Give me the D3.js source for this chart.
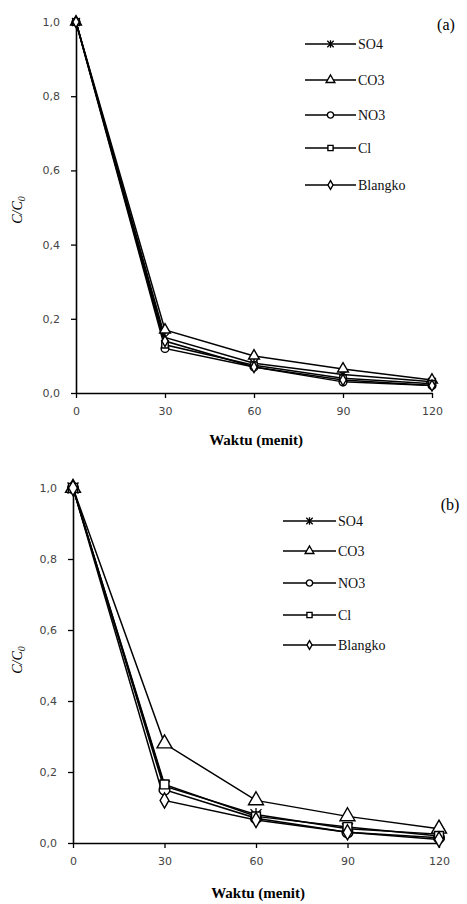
<!DOCTYPE html>
<html>
<head>
<meta charset="utf-8">
<script src="https://cdn.jsdelivr.net/npm/d3@7"></script>
<style>
  body { margin: 0; background: #fff; }
  .tick text { font-family: "DejaVu Sans", Verdana, sans-serif; font-size: 11px; fill: #444; }
  .leg text { font-family: "Liberation Serif", "Times New Roman", serif; font-size: 14px; fill: #111; }
</style>
</head>
<body>
<div id="chart"></div>
<script>
// time points (menit)
var waktu = [0, 30, 60, 90, 120];
var seriesNames = ["SO4", "CO3", "NO3", "Cl", "Blangko"];
var yTicks = [0, 0.2, 0.4, 0.6, 0.8, 1.0];

// panel (a) C/C0
var a_SO4 = [1, 0.15, 0.08, 0.05, 0.03];
var a_CO3 = [1, 0.17, 0.10, 0.065, 0.035];
var a_NO3 = [1, 0.12, 0.07, 0.03, 0.02];
var a_Cl = [1, 0.13, 0.075, 0.04, 0.025];
var a_Blangko = [1, 0.14, 0.07, 0.035, 0.02];

// panel (b) C/C0
var b_SO4 = [1, 0.16, 0.08, 0.04, 0.025];
var b_CO3 = [1, 0.28, 0.12, 0.075, 0.04];
var b_NO3 = [1, 0.15, 0.07, 0.03, 0.015];
var b_Cl = [1, 0.165, 0.075, 0.045, 0.02];
var b_Blangko = [1, 0.12, 0.065, 0.03, 0.01];

var W = 467, H = 904;
var svg = d3.select('#chart').append('svg')
    .attr('width', W).attr('height', H);

var fmt = function (d) { return d3.format('.1f')(d).replace('.', ','); };

function drawMarker(g, type, size) {
    var s = size;
    if (type === 'SO4') {
        g.append('path')
            .attr('d', 'M' + (-s) + ',' + (-s) + 'L' + s + ',' + s + 'M' + (-s) + ',' + s + 'L' + s + ',' + (-s) + 'M0,' + (-s * 1.2) + 'L0,' + (s * 1.2))
            .attr('stroke', '#000').attr('stroke-width', 1.3).attr('fill', 'none');
    } else {
        var sym = { CO3: d3.symbolTriangle, NO3: d3.symbolCircle, Cl: d3.symbolSquare, Blangko: d3.symbolDiamond }[type];
        var area = { CO3: s * s * 3.2, NO3: s * s * 3, Cl: s * s * 2.6, Blangko: s * s * 2.2 }[type];
        g.append('path')
            .attr('d', d3.symbol().type(sym).size(area)())
            .attr('fill', '#fff').attr('stroke', '#000').attr('stroke-width', 1.4);
    }
}

function panel(opt) {
    var x = d3.scaleLinear().domain([0, 120]).range([opt.x0, opt.x1]);
    var y = d3.scaleLinear().domain([0, 1]).range([opt.y0, opt.y1]);
    var g = svg.append('g');

    g.append('g')
        .attr('transform', 'translate(0,' + opt.y0 + ')')
        .call(d3.axisBottom(x).tickValues(waktu).tickSize(5).tickSizeOuter(0).tickPadding(9))
        .call(function (ax) { ax.select('.domain').attr('stroke-width', 1.6); ax.selectAll('line').attr('stroke-width', 1.3); });

    g.append('g')
        .attr('transform', 'translate(' + opt.x0 + ',0)')
        .call(d3.axisLeft(y).tickValues(yTicks).tickFormat(fmt).tickSize(5).tickSizeOuter(0).tickPadding(11))
        .call(function (ax) { ax.select('.domain').attr('stroke-width', 1.6); ax.selectAll('line').attr('stroke-width', 1.3); });

    var line = d3.line().x(function (d, i) { return x(waktu[i]); }).y(function (d) { return y(d); });

    seriesNames.forEach(function (name, k) {
        var vals = opt.data[k];
        g.append('path').datum(vals)
            .attr('d', line).attr('fill', 'none')
            .attr('stroke', '#000').attr('stroke-width', 1.5);
    });
    seriesNames.forEach(function (name, k) {
        opt.data[k].forEach(function (v, i) {
            var m = g.append('g').attr('transform', 'translate(' + x(waktu[i]) + ',' + y(v) + ')');
            drawMarker(m, name, opt.ms);
        });
    });

    // legend
    var leg = g.append('g').attr('class', 'leg');
    seriesNames.forEach(function (name, k) {
        var ly = opt.legY[k];
        leg.append('line').attr('x1', opt.legX0).attr('x2', opt.legX1)
            .attr('y1', ly).attr('y2', ly).attr('stroke', '#000').attr('stroke-width', 1.4);
        var m = leg.append('g').attr('transform', 'translate(' + ((opt.legX0 + opt.legX1) / 2) + ',' + ly + ')');
        drawMarker(m, name, 3.2);
        leg.append('text').attr('x', opt.legX1 + 2).attr('y', ly + 5).text(name);
    });

    g.append('text').attr('x', opt.tagX).attr('y', opt.tagY)
        .attr('text-anchor', 'middle')
        .style('font-family', '"Liberation Serif", serif').style('font-size', '16px')
        .text(opt.tag);

    // axis titles
    var yt = g.append('text')
        .attr('transform', 'translate(22,' + opt.yTitleY + ') rotate(-90)')
        .attr('text-anchor', 'middle')
        .style('font-family', '"Liberation Serif", serif').style('font-size', '14px').style('font-style', 'italic');
    yt.append('tspan').text('C/C');
    yt.append('tspan').attr('font-size', '10px').attr('dy', 3).text('0');

    g.append('text').attr('x', (opt.x0 + opt.x1) / 2 + 2).attr('y', opt.titleY)
        .attr('text-anchor', 'middle')
        .style('font-family', '"Liberation Serif", serif').style('font-size', '15px').style('font-weight', 'bold')
        .text('Waktu (menit)');
}

panel({
    x0: 76, x1: 432, y0: 393, y1: 22, ms: 4,
    data: [a_SO4, a_CO3, a_NO3, a_Cl, a_Blangko],
    legX0: 305, legX1: 356, legY: [44, 80, 115, 148, 185],
    tag: '(a)', tagX: 446, tagY: 30, titleY: 445, yTitleY: 210
});

panel({
    x0: 73, x1: 439, y0: 843, y1: 488, ms: 5.5,
    data: [b_SO4, b_CO3, b_NO3, b_Cl, b_Blangko],
    legX0: 283, legX1: 336, legY: [521, 551, 583, 615, 645],
    tag: '(b)', tagX: 450, tagY: 510, titleY: 898, yTitleY: 660
});
</script>
</body>
</html>
